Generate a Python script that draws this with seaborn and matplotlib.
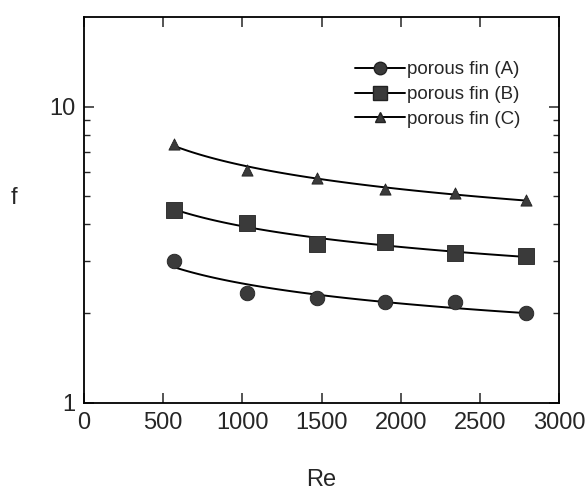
import numpy as np
import pandas as pd
import matplotlib
matplotlib.use("Agg")
import matplotlib.pyplot as plt
import seaborn as sns
from matplotlib.lines import Line2D
from matplotlib.ticker import NullFormatter, FixedLocator, FixedFormatter

# ---- data ----
re_values = [570, 1030, 1470, 1900, 2340, 2790]
f_fin_a = [3.00, 2.35, 2.26, 2.18, 2.19, 2.00]
f_fin_b = [4.47, 4.04, 3.43, 3.48, 3.21, 3.12]
f_fin_c = [7.48, 6.10, 5.74, 5.28, 5.12, 4.82]
series_labels = ["porous fin (A)", "porous fin (B)", "porous fin (C)"]
x_ticks = [0, 500, 1000, 1500, 2000, 2500, 3000]
y_tick_labels = ["1", "10"]

sns.set_style("ticks")
plt.rcParams['font.family'] = ['Liberation Sans', 'DejaVu Sans']

df = pd.DataFrame({
    "Re": re_values * 3,
    "f": f_fin_a + f_fin_b + f_fin_c,
    "series": sum([[s] * len(re_values) for s in series_labels], []),
})

# power-law fits f = a * Re^b, computed from the data
fit_rows = []
for s in series_labels:
    sub = df[df.series == s]
    b, a = np.polyfit(np.log(sub.Re), np.log(sub.f), 1)
    xs = np.linspace(sub.Re.min(), sub.Re.max(), 100)
    for xv in xs:
        fit_rows.append({"Re": xv, "f": np.exp(a) * xv ** b, "series": s})
fit_df = pd.DataFrame(fit_rows)

fig = plt.figure(figsize=(5.87, 4.97), dpi=100)
ax = fig.add_axes([0.143, 0.19, 0.81, 0.775])

markers = {"porous fin (A)": "o", "porous fin (B)": "s", "porous fin (C)": "^"}
msizes = {"porous fin (A)": 110, "porous fin (B)": 120, "porous fin (C)": 65}
mark_color = "#3a3a3a"

for s in series_labels:
    sns.lineplot(data=fit_df[fit_df.series == s], x="Re", y="f", ax=ax,
                 color="black", lw=1.4, legend=False)
    sns.scatterplot(data=df[df.series == s], x="Re", y="f", ax=ax,
                    marker=markers[s], s=msizes[s], color=mark_color,
                    edgecolor="#222222", linewidth=0.6, legend=False, zorder=3)

ax.set_yscale("log")
ax.set_xlim(0, 3000)
ax.set_ylim(1, 20)
ax.xaxis.set_major_locator(FixedLocator(x_ticks))
ax.set_xticklabels([str(t) for t in x_ticks])
ax.yaxis.set_major_locator(FixedLocator([1, 10]))
ax.yaxis.set_major_formatter(FixedFormatter(y_tick_labels))
ax.yaxis.set_minor_locator(FixedLocator([2, 3, 4, 5, 6, 7, 8, 9]))
ax.yaxis.set_minor_formatter(NullFormatter())

for sp in ax.spines.values():
    sp.set_visible(True)
    sp.set_linewidth(1.3)
    sp.set_color("black")

ax.tick_params(axis="both", which="major", direction="in", length=7, width=1.1,
               labelsize=17, top=True, right=True, pad=7)
ax.tick_params(axis="y", which="minor", direction="in", length=4.5, width=1.0,
               right=True)
ax.tick_params(axis="y", which="major", pad=6)

ax.set_xlabel("Re", fontsize=17, va="center")
ax.xaxis.set_label_coords(0.5, -0.2)
ax.set_ylabel("f", fontsize=17, rotation=0, va="center")
ax.yaxis.set_label_coords(-0.148, 0.53)

handles = []
hsizes = {"porous fin (A)": 9, "porous fin (B)": 9.5, "porous fin (C)": 6.5}
for s in series_labels:
    handles.append(Line2D([0], [0], color="black", lw=1.4, marker=markers[s],
                          markersize=hsizes[s], markerfacecolor=mark_color,
                          markeredgecolor="#222222"))
ax.legend(handles, series_labels, loc="upper left", bbox_to_anchor=(0.542, 0.92),
          frameon=False, fontsize=13.5, handlelength=2.7, handletextpad=0.1,
          labelspacing=0.4, borderpad=0.2)

fig.savefig("out.png", dpi=100)
